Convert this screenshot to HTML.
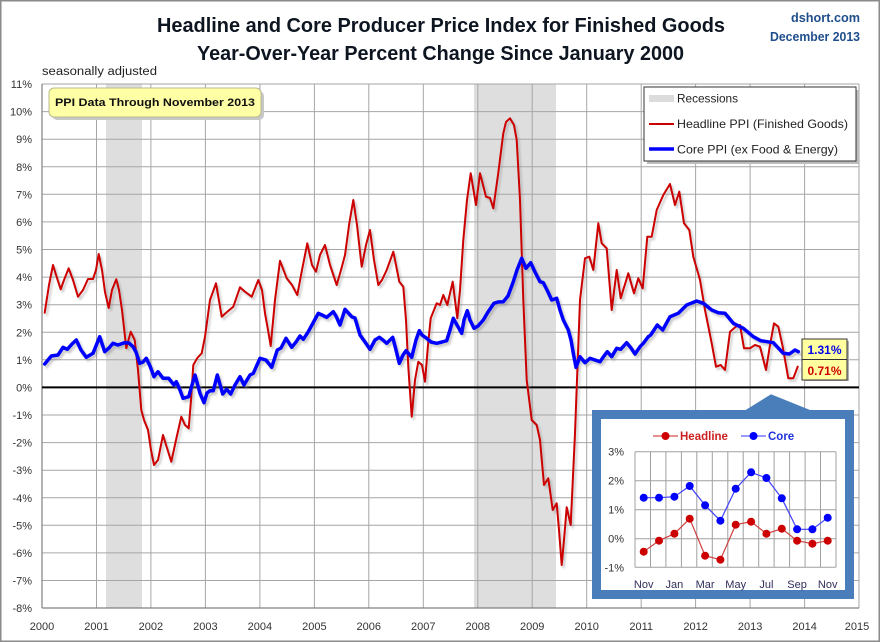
<!DOCTYPE html>
<html><head><meta charset="utf-8"><style>
html,body{margin:0;padding:0;background:#fff;}
svg{display:block;font-family:"Liberation Sans",sans-serif;}
</style></head><body>
<svg width="880" height="642" viewBox="0 0 880 642" xmlns="http://www.w3.org/2000/svg">
<defs>
<filter id="blur" x="-5%" y="-5%" width="110%" height="110%"><feGaussianBlur stdDeviation="1"/></filter>
<polyline id="redline" fill="none" stroke-linejoin="round" stroke-linecap="round" stroke-width="2" points="44.7,312.7 49,285 53,265 57,278 60.7,289.3 64,280 68.7,268.3 73,280 78,296.7 83,290 88,279 93,279 96,270 98.7,254 102,270 105,292 108.7,308 112,290 116.3,279.3 119,290 122,310 126.3,348.3 128.5,340 130.7,331.7 134.7,340 138,370 141.3,410 144,420 148,430 151,450 154,465 158,460 163,435 167,448 171.3,461.7 176,440 181.3,416.7 185,425 188.7,428.3 191,400 193.3,365 197.3,358 201.7,353.3 205,336.7 210,300 216,283.3 218,295 221.7,316.7 227,312 233.3,306.7 240,287.3 245,291.7 251.7,296.7 258.3,280 262,290 265,313.3 268,330 270.7,346 275,300 280,260.7 286.7,278.3 292,285 297.3,295 302,270 307.3,243.3 312,265 316,271.7 320,255 325,245 330,265 336.7,285 341,270 345,255 349.3,223.3 353.3,200 357,225 361.7,266.7 366,245 370,230 374,260 378.3,285 382,280 386.7,270 393.3,251.7 396,265 399.3,281.7 403.3,286.7 406,320 408.3,366.7 411.7,416.7 415,380 418.3,361.7 422,365 425,381.7 428,345 430.7,318.3 436.7,303.3 440,305 443.3,295 447.3,305 452.7,281.7 457.3,318.3 460,290 463.3,240 467,200 470.7,173.3 476,205 480,173.3 486,196.7 490,198 493.3,208.3 498,175 503.3,133.3 506,122 510,118.3 514,125 516.7,140 520,200 523.3,300 526.7,380 531.7,420 536.7,425 540,440 544,485 548.3,478.3 552.7,510 556.7,503.3 559,530 561.7,565 564,540 566.7,507.3 570.7,525 575,433.3 580,300 585,258.3 589.3,256.7 593.3,270 598.3,223.3 601.7,243.3 606.7,248.3 611.7,310 616.7,270 620.7,298.3 628.3,273.3 634,293.3 638.3,278.3 642.7,288.3 647.3,236.7 651.7,236.7 656.7,210 663.3,195 670,184 675,205 679.3,191.7 684,223.3 689.3,230 693.3,256.7 700,280 705,310 711.7,343.3 716,366.7 720.7,365 725,370 730,331.7 736.7,326 740,325 744,348.3 750,348.3 755,345 760,346.7 766,370 770,345 774,323.3 778.3,326.7 782.7,346.7 788.3,378.3 793.3,378.3 797.7,366.7"/>
<polyline id="blueline" fill="none" stroke-linejoin="round" stroke-linecap="round" stroke-width="3.5" points="44.7,364 51.3,356 58,355 63,347.3 67.3,349.3 72,344 76.3,340 81,350 86.3,357.3 93,353.3 99.7,336.7 104.7,351.7 109,348 113,343.3 118,345 124.7,342.7 129,343 133,346.7 136,352 139.7,363.3 143,362 146.3,358.3 150,366 154,376.7 158,371.7 163,378.3 168.7,378.3 174,385 176.3,381.7 180,390 183,398.3 188.7,396.7 192,385 195,375 200,393.3 204,402.7 207,393 210,390.7 213.3,390.7 217.3,375 222.7,394 226.7,389.3 230.7,394 235,385 240,376.7 244,385 250,375 253.3,373.3 257,365 260,358.3 266,360 271.7,367.3 277.3,350 281,348 286,338.3 291.7,347.3 296,342 300,336 303.3,339.3 308.3,331.7 313,323 318.3,313.3 322,315 326.7,317.3 333.3,311.7 336,316 340,325 345,309.3 351.7,316.7 355,318 360,335 365,342 370,349.3 375,340 379.3,337.3 383,340 386.7,343.3 392.7,337.3 396,350 399.3,363.3 403,355 406,350.7 411.7,357.3 416,340 419.3,330.7 422,335 426.7,338.3 431,342 436.7,343.3 442,342 446.7,340.7 450,330 453.3,318.3 457,325 461.7,333.3 464,320 467.3,310.7 470,320 474,328.3 478,326 483.3,320 488,312 494,303.3 498,302 503.3,301.7 508,296 513.3,281.7 517,270 521.7,258.3 526,268.3 530.7,262.7 535,272 540,281.7 543.3,282.7 548,292 551.7,300 556.7,298.3 560,310 563.3,320 568.3,330 571,340 573.3,353.3 576,367.3 580,356.7 585,362.7 590,358.3 595,360 600,361.7 604,356 607.3,351.7 611.7,356.7 616.7,348.3 620.7,349.3 626.7,342.7 631,348 635,354 640,346.7 643.3,343.3 648.3,336.7 650.7,335 657.3,325 662.7,330 670,316.7 678.3,313.3 686.7,305 696.7,301 703.3,303.3 711.7,310 718.3,312.7 725,313.3 733.3,323.3 743.3,328.3 753.3,336.7 760.7,340.7 773.3,342.7 783.3,353.3 789.3,354 795,350 798.3,351.7"/>
</defs>
<rect x="0" y="0" width="880" height="642" fill="#fff"/>
<rect x="0.75" y="0.75" width="878.5" height="640.5" fill="none" stroke="#8a8a8a" stroke-width="1.5"/>

<!-- titles -->
<text x="441" y="32" text-anchor="middle" font-size="20.5" font-weight="bold" fill="#0d1520" textLength="568" lengthAdjust="spacingAndGlyphs">Headline and Core Producer Price Index for Finished Goods</text>
<text x="440.5" y="60" text-anchor="middle" font-size="20.5" font-weight="bold" fill="#0d1520" textLength="487" lengthAdjust="spacingAndGlyphs">Year-Over-Year Percent Change Since January 2000</text>
<text x="860" y="22" text-anchor="end" font-size="12.5" font-weight="bold" fill="#1f4e8c" textLength="69" lengthAdjust="spacingAndGlyphs">dshort.com</text>
<text x="860" y="41" text-anchor="end" font-size="12.5" font-weight="bold" fill="#1f4e8c" textLength="90" lengthAdjust="spacingAndGlyphs">December 2013</text>
<text x="42" y="75" font-size="11.5" fill="#222" textLength="115" lengthAdjust="spacingAndGlyphs">seasonally adjusted</text>

<!-- recessions -->
<rect x="106" y="84" width="36" height="524" fill="#dedede"/>
<rect x="474" y="84" width="82" height="524" fill="#dedede"/>

<!-- gridlines -->
<g stroke="#a6a6a6" stroke-width="1">
<line x1="42" y1="84" x2="859" y2="84"/>
<line x1="42" y1="111.6" x2="859" y2="111.6"/>
<line x1="42" y1="139.2" x2="859" y2="139.2"/>
<line x1="42" y1="166.8" x2="859" y2="166.8"/>
<line x1="42" y1="194.3" x2="859" y2="194.3"/>
<line x1="42" y1="221.9" x2="859" y2="221.9"/>
<line x1="42" y1="249.5" x2="859" y2="249.5"/>
<line x1="42" y1="277.1" x2="859" y2="277.1"/>
<line x1="42" y1="304.7" x2="859" y2="304.7"/>
<line x1="42" y1="332.3" x2="859" y2="332.3"/>
<line x1="42" y1="359.8" x2="859" y2="359.8"/>
<line x1="42" y1="415" x2="859" y2="415"/>
<line x1="42" y1="442.6" x2="859" y2="442.6"/>
<line x1="42" y1="470.2" x2="859" y2="470.2"/>
<line x1="42" y1="497.8" x2="859" y2="497.8"/>
<line x1="42" y1="525.3" x2="859" y2="525.3"/>
<line x1="42" y1="552.9" x2="859" y2="552.9"/>
<line x1="42" y1="580.5" x2="859" y2="580.5"/>
<line x1="96.5" y1="84" x2="96.5" y2="608"/>
<line x1="150.9" y1="84" x2="150.9" y2="608"/>
<line x1="205.4" y1="84" x2="205.4" y2="608"/>
<line x1="259.9" y1="84" x2="259.9" y2="608"/>
<line x1="314.4" y1="84" x2="314.4" y2="608"/>
<line x1="368.8" y1="84" x2="368.8" y2="608"/>
<line x1="423.3" y1="84" x2="423.3" y2="608"/>
<line x1="477.8" y1="84" x2="477.8" y2="608"/>
<line x1="532.2" y1="84" x2="532.2" y2="608"/>
<line x1="586.7" y1="84" x2="586.7" y2="608"/>
<line x1="641.2" y1="84" x2="641.2" y2="608"/>
<line x1="695.6" y1="84" x2="695.6" y2="608"/>
<line x1="750.1" y1="84" x2="750.1" y2="608"/>
<line x1="804.6" y1="84" x2="804.6" y2="608"/>
<line x1="859" y1="84" x2="859" y2="608"/>
</g>
<line x1="42" y1="84" x2="42" y2="608" stroke="#808080" stroke-width="1.2"/>
<line x1="42" y1="608" x2="859" y2="608" stroke="#808080" stroke-width="1.2"/>
<line x1="42" y1="387.4" x2="859" y2="387.4" stroke="#000" stroke-width="2"/>

<!-- y labels -->
<g font-size="11" fill="#333" text-anchor="end">
<text x="32" y="88">11%</text>
<text x="32" y="115.6">10%</text>
<text x="32" y="143.2">9%</text>
<text x="32" y="170.8">8%</text>
<text x="32" y="198.3">7%</text>
<text x="32" y="225.9">6%</text>
<text x="32" y="253.5">5%</text>
<text x="32" y="281.1">4%</text>
<text x="32" y="308.7">3%</text>
<text x="32" y="336.3">2%</text>
<text x="32" y="363.8">1%</text>
<text x="32" y="391.4">0%</text>
<text x="32" y="419">-1%</text>
<text x="32" y="446.6">-2%</text>
<text x="32" y="474.2">-3%</text>
<text x="32" y="501.8">-4%</text>
<text x="32" y="529.3">-5%</text>
<text x="32" y="556.9">-6%</text>
<text x="32" y="584.5">-7%</text>
<text x="32" y="612">-8%</text>
</g>
<!-- x labels -->
<g font-size="11" fill="#333" text-anchor="middle">
<text x="42" y="630">2000</text>
<text x="96.5" y="630">2001</text>
<text x="150.9" y="630">2002</text>
<text x="205.4" y="630">2003</text>
<text x="259.9" y="630">2004</text>
<text x="314.4" y="630">2005</text>
<text x="368.8" y="630">2006</text>
<text x="423.3" y="630">2007</text>
<text x="477.8" y="630">2008</text>
<text x="532.2" y="630">2009</text>
<text x="586.7" y="630">2010</text>
<text x="641.2" y="630">2011</text>
<text x="695.6" y="630">2012</text>
<text x="750.1" y="630">2013</text>
<text x="804.6" y="630">2014</text>
<text x="857" y="630">2015</text>
</g>

<!-- series shadows -->
<g filter="url(#blur)" opacity="0.45" transform="translate(2,2.5)">
<use href="#redline" stroke="#888"/>
<use href="#blueline" stroke="#888"/>
</g>
<use href="#redline" stroke="#cc0000"/>
<use href="#blueline" stroke="#0000ff"/>

<!-- value labels -->
<rect x="804" y="341" width="45" height="40" fill="#b0b0b0"/>
<rect x="802" y="339" width="45" height="20.5" fill="#ffffa0" stroke="#333" stroke-width="1"/>
<rect x="802" y="359.5" width="45" height="20.5" fill="#ffffa0" stroke="#333" stroke-width="1"/>
<text x="824.5" y="354" text-anchor="middle" font-size="12" font-weight="bold" fill="#0000ee">1.31%</text>
<text x="824.5" y="375" text-anchor="middle" font-size="12" font-weight="bold" fill="#cc0000">0.71%</text>

<!-- PPI note -->
<rect x="52" y="91" width="212" height="29" rx="5" fill="#c8c8c8"/>
<rect x="49" y="88" width="212" height="29" rx="5" fill="#ffffa6" stroke="#b8b890" stroke-width="1"/>
<text x="155" y="106" text-anchor="middle" font-size="11" font-weight="bold" fill="#111" textLength="200" lengthAdjust="spacingAndGlyphs">PPI Data Through November 2013</text>

<!-- legend -->
<rect x="647" y="90" width="212" height="74" fill="#bdbdbd"/>
<rect x="644" y="87" width="212" height="74" fill="#fff" stroke="#333" stroke-width="1"/>
<rect x="649" y="95" width="25" height="7" fill="#dcdcdc"/>
<text x="677" y="102.5" font-size="12" fill="#222" textLength="61" lengthAdjust="spacingAndGlyphs">Recessions</text>
<line x1="649" y1="124" x2="674" y2="124" stroke="#cc0000" stroke-width="2"/>
<text x="677" y="128" font-size="12" fill="#222" textLength="171" lengthAdjust="spacingAndGlyphs">Headline PPI (Finished Goods)</text>
<line x1="649" y1="149" x2="674" y2="149" stroke="#0000ff" stroke-width="3.5"/>
<text x="677" y="153.5" font-size="12" fill="#222" textLength="161" lengthAdjust="spacingAndGlyphs">Core PPI (ex Food &amp; Energy)</text>

<!-- inset -->
<polygon points="745.7,410 771,394.3 810,410" fill="#4a7ebb"/>
<rect x="592" y="410" width="262" height="189" fill="#4a7ebb"/>
<rect x="601" y="419" width="244" height="171" fill="#fff"/>
<g stroke="#a0a0a0" stroke-width="1">
<line x1="635" y1="451.7" x2="836" y2="451.7"/>
<line x1="635" y1="480.7" x2="836" y2="480.7"/>
<line x1="635" y1="509.7" x2="836" y2="509.7"/>
<line x1="635" y1="538.7" x2="836" y2="538.7"/>
<line x1="635" y1="567.3" x2="836" y2="567.3"/>
<line x1="635" y1="451.7" x2="635" y2="567.3"/>
<line x1="650.5" y1="451.7" x2="650.5" y2="567.3"/>
<line x1="665.9" y1="451.7" x2="665.9" y2="567.3"/>
<line x1="681.4" y1="451.7" x2="681.4" y2="567.3"/>
<line x1="696.8" y1="451.7" x2="696.8" y2="567.3"/>
<line x1="712.3" y1="451.7" x2="712.3" y2="567.3"/>
<line x1="727.8" y1="451.7" x2="727.8" y2="567.3"/>
<line x1="743.2" y1="451.7" x2="743.2" y2="567.3"/>
<line x1="758.7" y1="451.7" x2="758.7" y2="567.3"/>
<line x1="774.1" y1="451.7" x2="774.1" y2="567.3"/>
<line x1="789.6" y1="451.7" x2="789.6" y2="567.3"/>
<line x1="805.1" y1="451.7" x2="805.1" y2="567.3"/>
<line x1="820.5" y1="451.7" x2="820.5" y2="567.3"/>
<line x1="836" y1="451.7" x2="836" y2="567.3"/>
</g>
<g font-size="11" fill="#333" text-anchor="end">
<text x="624" y="455.7">3%</text>
<text x="624" y="484.7">2%</text>
<text x="624" y="513.7">1%</text>
<text x="624" y="542.7">0%</text>
<text x="624" y="571.3">-1%</text>
</g>
<g font-size="11" fill="#2e2e5a" text-anchor="middle">
<text x="643.7" y="588">Nov</text>
<text x="674.4" y="588">Jan</text>
<text x="705.1" y="588">Mar</text>
<text x="735.7" y="588">May</text>
<text x="766.4" y="588">Jul</text>
<text x="797.1" y="588">Sep</text>
<text x="827.7" y="588">Nov</text>
</g>
<!-- inset legend -->
<line x1="653" y1="436" x2="678" y2="436" stroke="#cc2222" stroke-width="1"/>
<circle cx="665.5" cy="436" r="4" fill="#cc0000"/>
<text x="680" y="440" font-size="11.5" font-weight="bold" fill="#cc2222">Headline</text>
<line x1="741" y1="436" x2="766" y2="436" stroke="#3333ff" stroke-width="1"/>
<circle cx="753.5" cy="436" r="4" fill="#0000ff"/>
<text x="768" y="440" font-size="11.5" font-weight="bold" fill="#2233dd">Core</text>
<!-- inset series -->
<polyline fill="none" stroke="#d04040" stroke-width="1.2" points="643.7,551.7 659,540.7 674.4,533.7 689.7,518.7 705.1,555.7 720.4,559.7 735.7,524.7 751.1,521.7 766.4,533.7 781.8,528.7 797.1,540.7 812.4,543.7 827.7,540.7"/>
<g fill="#cc0000">
<circle cx="643.7" cy="551.7" r="4"/><circle cx="659" cy="540.7" r="4"/><circle cx="674.4" cy="533.7" r="4"/><circle cx="689.7" cy="518.7" r="4"/><circle cx="705.1" cy="555.7" r="4"/><circle cx="720.4" cy="559.7" r="4"/><circle cx="735.7" cy="524.7" r="4"/><circle cx="751.1" cy="521.7" r="4"/><circle cx="766.4" cy="533.7" r="4"/><circle cx="781.8" cy="528.7" r="4"/><circle cx="797.1" cy="540.7" r="4"/><circle cx="812.4" cy="543.7" r="4"/><circle cx="827.7" cy="540.7" r="4"/>
</g>
<polyline fill="none" stroke="#4040ff" stroke-width="1.2" points="643.7,497.7 659,497.7 674.4,496.7 689.7,486 705.1,505.3 720.4,520.7 735.7,488.7 751.1,472.3 766.4,478 781.8,498.3 797.1,529.3 812.4,529.3 827.7,517.7"/>
<g fill="#0000ff">
<circle cx="643.7" cy="497.7" r="4"/><circle cx="659" cy="497.7" r="4"/><circle cx="674.4" cy="496.7" r="4"/><circle cx="689.7" cy="486" r="4"/><circle cx="705.1" cy="505.3" r="4"/><circle cx="720.4" cy="520.7" r="4"/><circle cx="735.7" cy="488.7" r="4"/><circle cx="751.1" cy="472.3" r="4"/><circle cx="766.4" cy="478" r="4"/><circle cx="781.8" cy="498.3" r="4"/><circle cx="797.1" cy="529.3" r="4"/><circle cx="812.4" cy="529.3" r="4"/><circle cx="827.7" cy="517.7" r="4"/>
</g>
</svg>
</body></html>
